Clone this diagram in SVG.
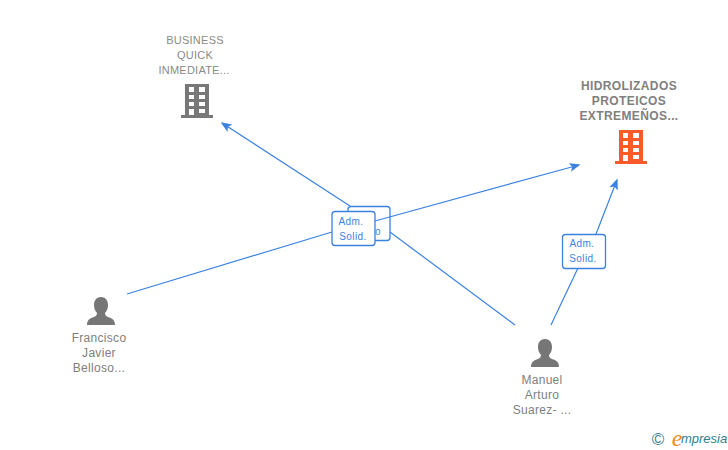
<svg xmlns="http://www.w3.org/2000/svg" width="728" height="450" viewBox="0 0 728 450">
<style>
text{font-family:"Liberation Sans",Arial,sans-serif;text-anchor:middle}
.co{font-size:11px;fill:#8a8a8a;letter-spacing:.25px}
.cob{font-size:12px;fill:#808080;font-weight:bold;letter-spacing:.4px}
.pe{font-size:12px;fill:#808080;letter-spacing:.3px}
.lb{font-size:10px;fill:#3b82e0;letter-spacing:.4px}
.edge{fill:none;stroke:#3b82e0;stroke-width:1.2}
.box{fill:#fff;stroke:#3b82e0;stroke-width:1.3}
</style>
<defs>
<marker id="arr" markerWidth="12" markerHeight="12" refX="9.500" refY="5" orient="auto" markerUnits="userSpaceOnUse"><path d="M0 0.500L11 5L0 9.500L2.500 5Z" fill="#3b82e0"/></marker>
<g id="person"><path d="M0 0c-5 0-7 4-7 8 0 3 1 6 3 8 0 2-1 3-3 4-4 1-7 3-7 8H14c0-5-3-7-7-8-2-1-3-2-3-4 2-2 3-5 3-8 0-4-2-8-7-8Z" fill="#767676"/></g>
<g id="bld"><path d="M-12 0H12V31H16V34H-16V31H-12ZM-8 3V8H-3V3ZM2 3V8H8V3ZM-8 11V15H-3V11ZM2 11V15H8V11ZM-8 18V22H-3V18ZM2 18V22H8V18ZM-8 25V31H-3V25ZM2 25V29H8V25Z" fill-rule="evenodd"/></g>
</defs>
<g id="label-1"><rect class="box" x="348" y="206.500" width="42" height="34" rx="3"/><text class="lb" x="378" y="235">o</text></g>
<g id="connectors">
<path class="edge" d="M515 325L390 232M350 206L222 123" marker-end="url(#arr)"/>
<path class="edge" d="M127 294L332 232M375 221L579 165" marker-end="url(#arr)"/>
<path class="edge" d="M551 325L578 268M596 234L617 180" marker-end="url(#arr)"/>
</g>
<g id="label-2"><rect class="box" x="332" y="211.500" width="43" height="34" rx="3"/><text class="lb" x="351" y="225">Adm.</text><text class="lb" x="353" y="240">Solid.</text></g>
<g id="label-3"><rect class="box" x="562.500" y="234.500" width="43" height="34" rx="3"/><text class="lb" x="582" y="247">Adm.</text><text class="lb" x="583" y="262">Solid.</text></g>
<g id="business"><use href="#bld" transform="translate(197 84)" fill="#787878"/><text class="co" x="195" y="44">BUSINESS</text><text class="co" x="195" y="59">QUICK</text><text class="co" x="194" y="74">INMEDIATE...</text></g>
<g id="hidrolizados"><use href="#bld" transform="translate(631 130)" fill="#fb5a2a"/><text class="cob" x="629" y="90">HIDROLIZADOS</text><text class="cob" x="629" y="105">PROTEICOS</text><text class="cob" x="629" y="120">EXTREMEÑOS...</text></g>
<g id="francisco"><use href="#person" x="101" y="297"/><text class="pe" x="99" y="342">Francisco</text><text class="pe" x="99" y="357">Javier</text><text class="pe" x="99" y="372">Belloso...</text></g>
<g id="manuel"><use href="#person" x="545" y="339"/><text class="pe" x="542" y="384">Manuel</text><text class="pe" x="542" y="399">Arturo</text><text class="pe" x="542" y="414">Suarez- ...</text></g>
<g id="logo"><text x="658" y="445" style="font-size:17px;fill:#3d7c8e">©</text><text x="677" y="446" style="font-size:24px;font-style:italic;fill:#f08a1d;font-family:'Liberation Serif',serif">e</text><text x="704" y="443" style="font-size:13px;font-style:italic;fill:#2f7f8f">mpresia</text></g>
</svg>
